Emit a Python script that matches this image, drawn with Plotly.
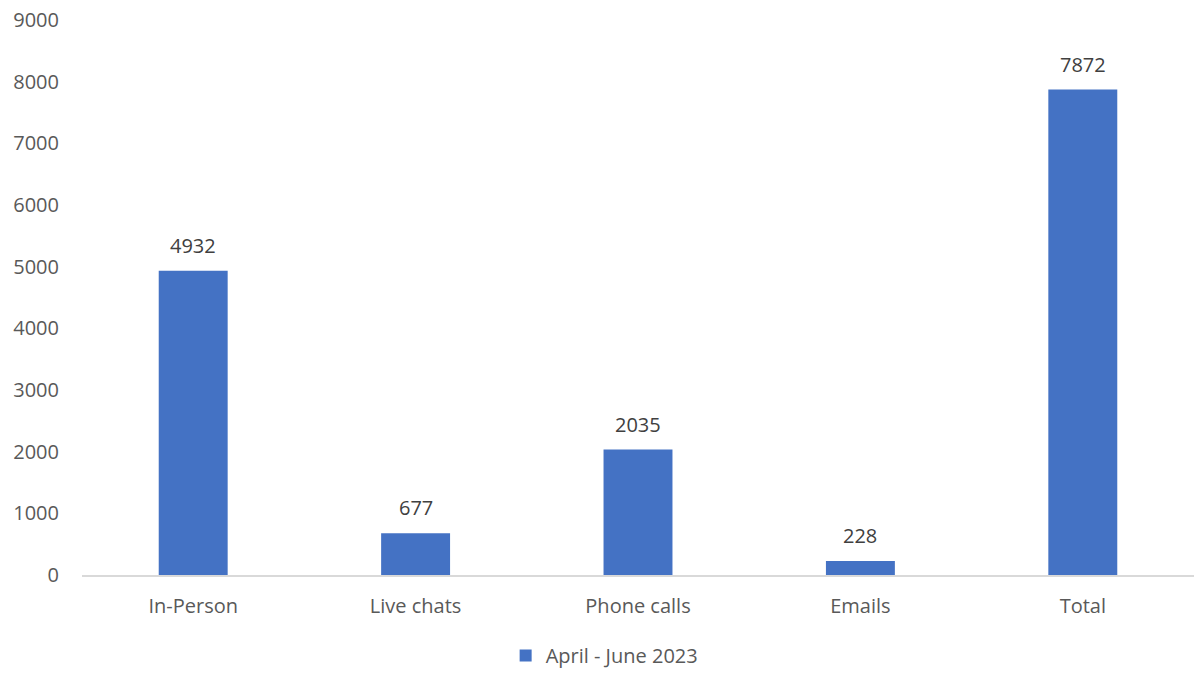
import plotly.graph_objects as go

categories = ["In-Person", "Live chats", "Phone calls", "Emails", "Total"]
values = [4932, 677, 2035, 228, 7872]
series_name = "April - June 2023"

font_family = "Open Sans, Segoe UI, sans-serif"
text_color = "#595959"
fsize = 20

fig = go.Figure()
fig.add_trace(go.Bar(
    x=categories,
    y=values,
    name=series_name,
    marker=dict(color="#4472C4", line=dict(width=0)),
    width=0.31,
))

for c, v in zip(categories, values):
    fig.add_annotation(
        x=c, y=v, text=str(v), showarrow=False,
        yanchor="bottom", yshift=10,
        font=dict(family=font_family, size=fsize, color="#404040"),
    )

fig.update_layout(
    width=1194,
    height=675,
    margin=dict(l=82, r=0, t=20, b=100, autoexpand=False),
    paper_bgcolor="white",
    plot_bgcolor="white",
    font=dict(family=font_family, size=fsize, color=text_color),
    showlegend=True,
    legend=dict(
        orientation="h",
        x=0.47, xanchor="center",
        yref="container",
        y=-0.006, yanchor="bottom",
        font=dict(size=fsize, color=text_color),
        itemwidth=30,
    ),
    xaxis=dict(
        showline=True,
        linecolor="#D9D9D9",
        linewidth=1.5,
        ticks="",
        ticklabelstandoff=12,
        tickfont=dict(size=fsize, color=text_color),
        showgrid=False,
    ),
    yaxis=dict(
        range=[0, 9000],
        dtick=1000,
        showgrid=False,
        zeroline=False,
        showline=False,
        ticks="",
        ticklabelstandoff=22,
        tickfont=dict(size=fsize, color=text_color),
    ),
)

fig.write_html("out.html")
